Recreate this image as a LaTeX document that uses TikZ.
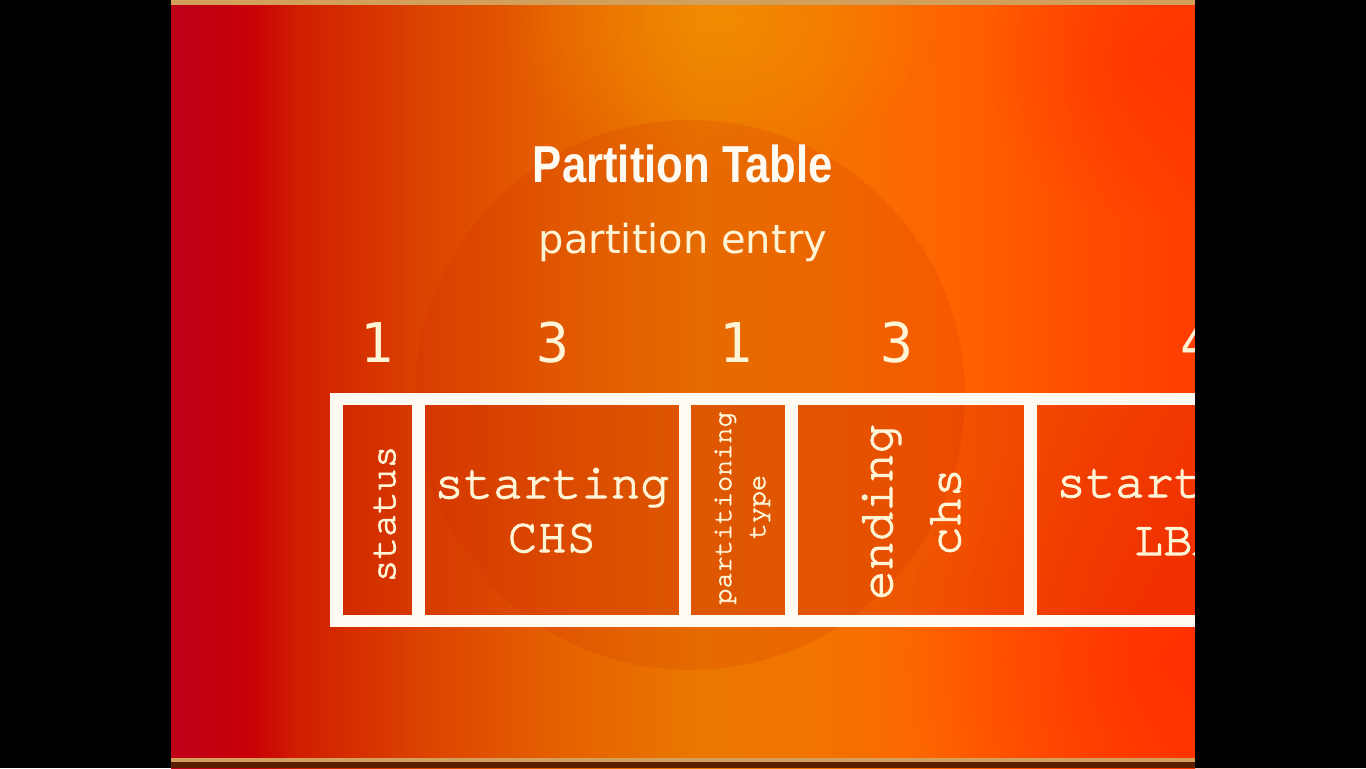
\documentclass[tikz,border=0pt]{standalone}
\usepackage{fontspec}
\setmainfont{Liberation Sans}
\newfontfamily\titlefont[FakeStretch=0.84]{Liberation Sans}
\newfontfamily\subfont{DejaVu Sans}
\newfontfamily\cellfont[FakeBold=2.5]{TeX Gyre Cursor}
\newfontfamily\digitfont{DejaVu Sans Mono}
\usetikzlibrary{fadings}
\definecolor{cream}{RGB}{255,244,214}
\definecolor{linew}{RGB}{255,250,242}
\definecolor{cellfill}{RGB}{205,40,0}
\definecolor{glow}{RGB}{250,165,0}
\definecolor{deep}{RGB}{255,30,0}
\definecolor{tanline}{RGB}{210,160,90}
\definecolor{darkedge}{RGB}{90,30,0}
\pgfdeclarehorizontalshading{bgshade}{100bp}{
rgb(0bp)=(0.745,0,0.098);
rgb(25bp)=(0.745,0,0.098);
rgb(28.9bp)=(0.784,0,0.03);
rgb(31.3bp)=(0.82,0.12,0);
rgb(37.2bp)=(0.86,0.26,0);
rgb(44bp)=(0.90,0.38,0);
rgb(50.8bp)=(0.92,0.47,0);
rgb(56.7bp)=(0.95,0.45,0);
rgb(63bp)=(1,0.39,0);
rgb(70.4bp)=(1,0.29,0);
rgb(75bp)=(1,0.24,0);
rgb(100bp)=(1,0.24,0)}
\tikzfading[name=softedge, inner color=transparent!0, outer color=transparent!100]
\tikzset{
  cell/.style={draw=linew, line width=6.25pt, fill=cellfill, fill opacity=0.28, minimum height=111pt, inner sep=0pt},
  celltext/.style={text=cream, inner sep=0pt},
  digit/.style={text=cream, inner sep=0pt, anchor=base, font=\digitfont\fontsize{27.4}{30}\selectfont}
}
\begin{document}
\begin{tikzpicture}[x=0.5pt,y=-0.5pt]
\useasboundingbox (0,0) rectangle (1366,768);
\fill[black] (0,0) rectangle (1366,768);
\shade[shading=bgshade] (171,0) rectangle (1195,768);
\fill[glow, path fading=softedge, opacity=0.45] (720,20) ellipse (220 and 150);
\fill[deep, path fading=softedge, opacity=0.45] (1160,660) ellipse (260 and 260);
\fill[deep, path fading=softedge, opacity=0.35] (1140,60) ellipse (160 and 160);
\fill[cellfill, opacity=0.16] (690,395) circle (275);
\fill[tanline] (171,0) rectangle (1195,5);
\fill[tanline] (171,758) rectangle (1195,762);
\fill[darkedge] (171,762) rectangle (1195,768);

% title
\node[text=linew, inner sep=0pt, anchor=base, font=\titlefont\bfseries\fontsize{26}{28}\selectfont] (title) at (683,182) {Partition Table};
\node[text=cream, inner sep=0pt, anchor=base, font=\subfont\fontsize{20}{22}\selectfont] (sub) at (683,253) {partition entry};

% byte counts
\node[digit] (n1) at (377,362) {1};
\node[digit] (n2) at (553,362) {3};
\node[digit] (n3) at (736,362) {1};
\node[digit] (n4) at (897,362) {3};
\node[digit] (n5) at (1197,362) {4};

% cells
\node[cell, minimum width=41pt] (c1) at (377.5,510) {};
\node[cell, minimum width=133.25pt] (c2) at (551.75,510) {};
\node[cell, minimum width=53.25pt] (c3) at (738.25,510) {};
\node[cell, minimum width=119.5pt] (c4) at (911,510) {};
\node[cell, minimum width=144.25pt] (c5) at (1174.75,510) {};

% cell texts
\node[celltext, rotate=90, anchor=base, font=\cellfont\fontsize{19}{21}\selectfont] (t1) at (395,514) {status};
\node[celltext, anchor=base, font=\cellfont\fontsize{24.5}{27}\selectfont] (t2a) at (552,498) {starting};
\node[celltext, anchor=base, font=\cellfont\fontsize{24.5}{27}\selectfont] (t2b) at (552,552) {CHS};
\node[celltext, rotate=90, anchor=base, font=\cellfont\fontsize{13.4}{15}\selectfont] (t3a) at (731,508) {partitioning};
\node[celltext, rotate=90, anchor=base, font=\cellfont\fontsize{13.4}{15}\selectfont] (t3b) at (765,507) {type};
\node[celltext, rotate=90, anchor=base, font=\cellfont\fontsize{24.4}{27}\selectfont] (t4a) at (892,512) {ending};
\node[celltext, rotate=90, anchor=base, font=\cellfont\fontsize{24.4}{27}\selectfont] (t4b) at (960,512) {chs};
\node[celltext, anchor=base, font=\cellfont\fontsize{24.5}{27}\selectfont] (t5a) at (1174,497) {starting};
\node[celltext, anchor=base, font=\cellfont\fontsize{24.5}{27}\selectfont] (t5b) at (1178,555) {LBA};

% right black bar
\fill[black] (1195,0) rectangle (1366,768);
\end{tikzpicture}
\end{document}
